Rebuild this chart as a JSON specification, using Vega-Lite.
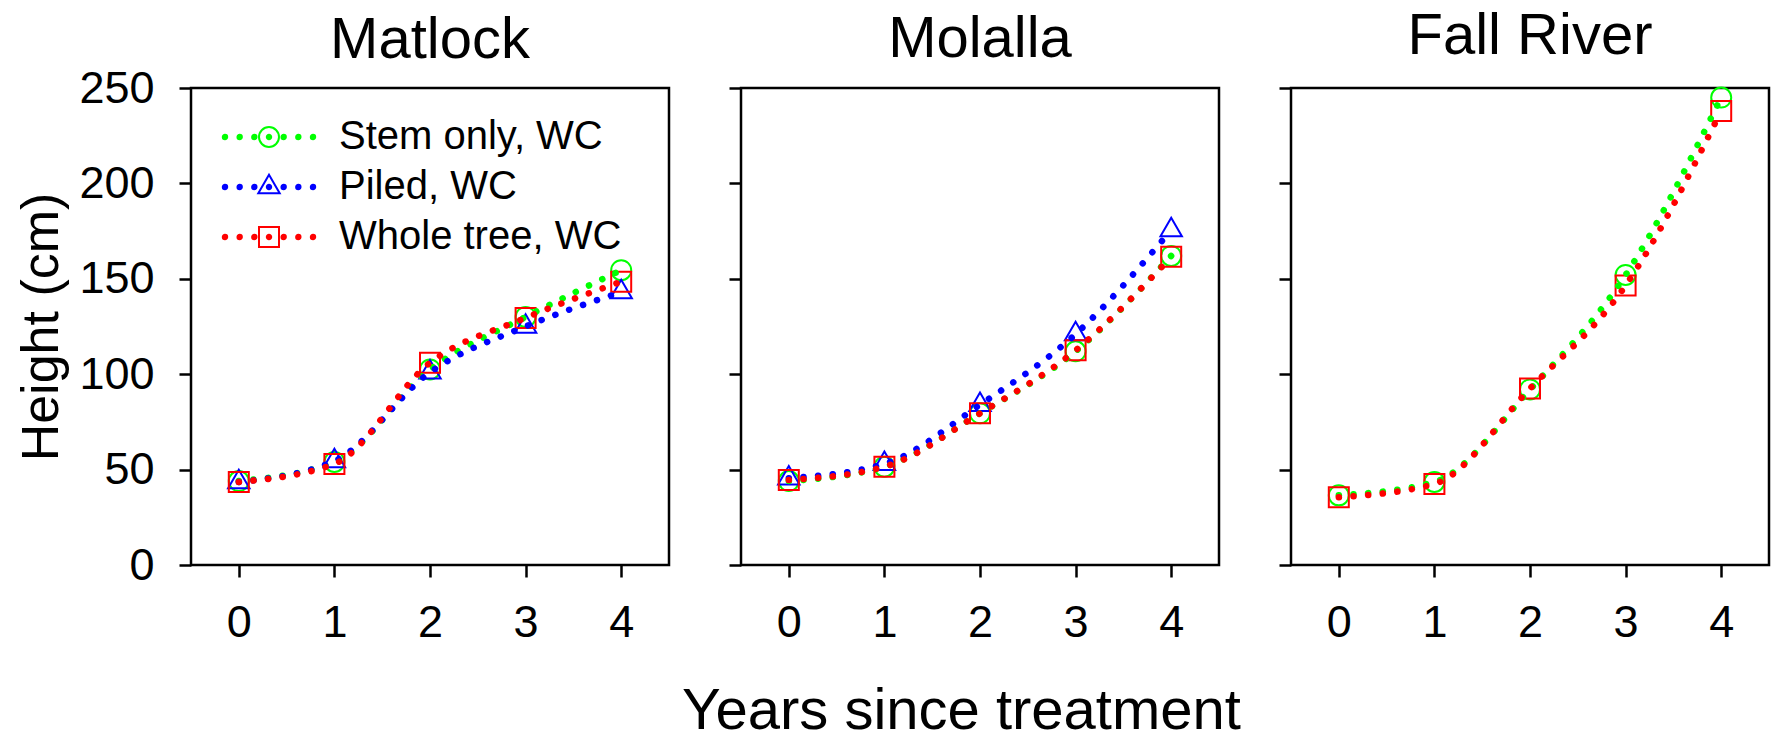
{
  "$schema": "https://vega.github.io/schema/vega-lite/v6.json",
  "background": "white",
  "padding": {"left": 14, "top": 6, "right": 4, "bottom": 0},
  "bounds": "flush",
  "spacing": 72,
  "config": {
    "font": "Liberation Sans",
    "view": {"stroke": "black", "strokeWidth": 2.5},
    "axis": {"grid": false, "domain": false, "tickColor": "black", "tickWidth": 2.5, "tickSize": 12, "labelFont": "Liberation Sans", "labelFontSize": 45, "labelColor": "black", "titleFont": "Liberation Sans", "titleColor": "black", "titleFontWeight": "normal"},
    "title": {"font": "Liberation Sans", "fontSize": 58, "fontWeight": "normal", "color": "black", "offset": 18, "anchor": "middle", "frame": "group"},
    "legend": {"labelFont": "Liberation Sans", "labelFontSize": 40, "labelColor": "black", "labelLimit": 400, "padding": 0, "rowPadding": 10}
  },
  "datasets": {
    "growth": [
      {"site": "Matlock", "treatment": "Stem only, WC", "year": 0, "height": 44},
      {"site": "Matlock", "treatment": "Stem only, WC", "year": 1, "height": 54},
      {"site": "Matlock", "treatment": "Stem only, WC", "year": 2, "height": 102.5},
      {"site": "Matlock", "treatment": "Stem only, WC", "year": 3, "height": 130},
      {"site": "Matlock", "treatment": "Stem only, WC", "year": 4, "height": 154.5},
      {"site": "Matlock", "treatment": "Piled, WC", "year": 0, "height": 43.5},
      {"site": "Matlock", "treatment": "Piled, WC", "year": 1, "height": 54.5},
      {"site": "Matlock", "treatment": "Piled, WC", "year": 2, "height": 101},
      {"site": "Matlock", "treatment": "Piled, WC", "year": 3, "height": 125},
      {"site": "Matlock", "treatment": "Piled, WC", "year": 4, "height": 143},
      {"site": "Matlock", "treatment": "Whole tree, WC", "year": 0, "height": 43.5},
      {"site": "Matlock", "treatment": "Whole tree, WC", "year": 1, "height": 53},
      {"site": "Matlock", "treatment": "Whole tree, WC", "year": 2, "height": 106},
      {"site": "Matlock", "treatment": "Whole tree, WC", "year": 3, "height": 129.5},
      {"site": "Matlock", "treatment": "Whole tree, WC", "year": 4, "height": 148.5},
      {"site": "Molalla", "treatment": "Stem only, WC", "year": 0, "height": 44},
      {"site": "Molalla", "treatment": "Stem only, WC", "year": 1, "height": 51.5},
      {"site": "Molalla", "treatment": "Stem only, WC", "year": 2, "height": 79.5},
      {"site": "Molalla", "treatment": "Stem only, WC", "year": 3, "height": 112},
      {"site": "Molalla", "treatment": "Stem only, WC", "year": 4, "height": 162},
      {"site": "Molalla", "treatment": "Piled, WC", "year": 0, "height": 45.5},
      {"site": "Molalla", "treatment": "Piled, WC", "year": 1, "height": 53},
      {"site": "Molalla", "treatment": "Piled, WC", "year": 2, "height": 84},
      {"site": "Molalla", "treatment": "Piled, WC", "year": 3, "height": 121},
      {"site": "Molalla", "treatment": "Piled, WC", "year": 4, "height": 175.5},
      {"site": "Molalla", "treatment": "Whole tree, WC", "year": 0, "height": 44.5},
      {"site": "Molalla", "treatment": "Whole tree, WC", "year": 1, "height": 51.5},
      {"site": "Molalla", "treatment": "Whole tree, WC", "year": 2, "height": 79.5},
      {"site": "Molalla", "treatment": "Whole tree, WC", "year": 3, "height": 112.5},
      {"site": "Molalla", "treatment": "Whole tree, WC", "year": 4, "height": 161.5},
      {"site": "Fall River", "treatment": "Stem only, WC", "year": 0, "height": 36.5},
      {"site": "Fall River", "treatment": "Stem only, WC", "year": 1, "height": 43.5},
      {"site": "Fall River", "treatment": "Stem only, WC", "year": 2, "height": 92},
      {"site": "Fall River", "treatment": "Stem only, WC", "year": 3, "height": 152},
      {"site": "Fall River", "treatment": "Stem only, WC", "year": 4, "height": 245},
      {"site": "Fall River", "treatment": "Whole tree, WC", "year": 0, "height": 35.5},
      {"site": "Fall River", "treatment": "Whole tree, WC", "year": 1, "height": 42.5},
      {"site": "Fall River", "treatment": "Whole tree, WC", "year": 2, "height": 92.5},
      {"site": "Fall River", "treatment": "Whole tree, WC", "year": 3, "height": 146.5},
      {"site": "Fall River", "treatment": "Whole tree, WC", "year": 4, "height": 238}
    ]
  },
  "resolve": {"scale": {"color": "independent", "shape": "independent", "stroke": "independent"}, "legend": {"color": "independent", "shape": "independent", "stroke": "independent"}},
  "hconcat": [
    {
      "width": 478, "height": 477,
      "title": {"text": "Matlock", "offset": -4},
      "data": {"name": "growth"},
      "transform": [{"filter": "datum.site === 'Matlock'"}],
      "encoding": {
        "x": {"field": "year", "type": "quantitative", "scale": {"domain": [-0.5, 4.5], "nice": false, "zero": false}, "axis": {"values": [0, 1, 2, 3, 4], "format": "d", "title": null, "labelPadding": 23}},
        "y": {"field": "height", "type": "quantitative", "scale": {"domain": [0, 250], "nice": false}, "axis": {"values": [0, 50, 100, 150, 200, 250], "title": "Height (cm)", "titleFontSize": 52, "titlePadding": 10, "labelPadding": 25}}
      },
      "layer": [
        {"mark": {"type": "point", "filled": false, "strokeWidth": 2, "size": 400, "opacity": 1},
         "encoding": {
           "color": {"field": "treatment", "type": "nominal",
             "scale": {"domain": ["Stem only, WC", "Piled, WC", "Whole tree, WC"], "range": ["#00ff00", "#0000ff", "#ff0000"]},
             "legend": {"title": null, "orient": "top-left", "offset": 29, "symbolSize": 400, "symbolStrokeWidth": 2, "symbolOffset": 29, "labelOffset": 24, "labelExpr": "''"}},
           "shape": {"field": "treatment", "type": "nominal", "scale": {"domain": ["Stem only, WC", "Piled, WC", "Whole tree, WC"], "range": ["circle", "M0,-1.23L1.07,0.62L-1.07,0.62Z", "square"]}, "legend": null}}},
        {"mark": {"type": "line", "interpolate": "monotone", "strokeCap": "round"},
         "encoding": {
           "stroke": {"field": "treatment", "type": "nominal",
             "scale": {"domain": ["Stem only, WC", "Piled, WC", "Whole tree, WC"], "range": ["#00ff00", "#0000ff", "#ff0000"]},
             "legend": {"title": null, "orient": "none", "legendX": 58, "legendY": 29, "labelOffset": 50, "symbolType": "M-2.479,0A0.087,0.087 0 1 1 -2.305,0A0.087,0.087 0 1 1 -2.479,0Z M-1.681,0A0.087,0.087 0 1 1 -1.507,0A0.087,0.087 0 1 1 -1.681,0Z M-0.884,0A0.087,0.087 0 1 1 -0.710,0A0.087,0.087 0 1 1 -0.884,0Z M-0.087,0A0.087,0.087 0 1 1 0.087,0A0.087,0.087 0 1 1 -0.087,0Z M0.710,0A0.087,0.087 0 1 1 0.884,0A0.087,0.087 0 1 1 0.710,0Z M1.507,0A0.087,0.087 0 1 1 1.681,0A0.087,0.087 0 1 1 1.507,0Z M2.305,0A0.087,0.087 0 1 1 2.479,0A0.087,0.087 0 1 1 2.305,0Z", "symbolSize": 1354, "symbolStrokeWidth": 3.2, "symbolFillColor": "transparent", "symbolDash": [1000, 0]}},
           "strokeWidth": {"value": 6.5},
           "strokeDash": {"value": [0.1, 14.6]}}}
      ]
    },
    {
      "width": 478, "height": 477,
      "title": {"text": "Molalla"},
      "data": {"name": "growth"},
      "transform": [{"filter": "datum.site === 'Molalla'"}],
      "encoding": {
        "x": {"field": "year", "type": "quantitative", "scale": {"domain": [-0.5, 4.5], "nice": false, "zero": false}, "axis": {"values": [0, 1, 2, 3, 4], "format": "d", "title": "Years since treatment", "titleFontSize": 58, "titlePadding": 37, "titleX": 220, "labelPadding": 23}},
        "y": {"field": "height", "type": "quantitative", "scale": {"domain": [0, 250], "nice": false}, "axis": {"values": [0, 50, 100, 150, 200, 250], "labels": false, "title": null}}
      },
      "layer": [
        {"mark": {"type": "point", "filled": false, "strokeWidth": 2, "size": 400, "opacity": 1},
         "encoding": {
           "color": {"field": "treatment", "type": "nominal", "scale": {"domain": ["Stem only, WC", "Piled, WC", "Whole tree, WC"], "range": ["#00ff00", "#0000ff", "#ff0000"]}, "legend": null},
           "shape": {"field": "treatment", "type": "nominal", "scale": {"domain": ["Stem only, WC", "Piled, WC", "Whole tree, WC"], "range": ["circle", "M0,-1.23L1.07,0.62L-1.07,0.62Z", "square"]}, "legend": null}}},
        {"mark": {"type": "line", "interpolate": "monotone", "strokeCap": "round"},
         "encoding": {
           "stroke": {"field": "treatment", "type": "nominal", "scale": {"domain": ["Stem only, WC", "Piled, WC", "Whole tree, WC"], "range": ["#00ff00", "#0000ff", "#ff0000"]}, "legend": null},
           "strokeWidth": {"value": 6.5},
           "strokeDash": {"value": [0.1, 14.6]}}}
      ]
    },
    {
      "width": 478, "height": 477,
      "title": {"text": "Fall River"},
      "data": {"name": "growth"},
      "transform": [{"filter": "datum.site === 'Fall River'"}],
      "encoding": {
        "x": {"field": "year", "type": "quantitative", "scale": {"domain": [-0.5, 4.5], "nice": false, "zero": false}, "axis": {"values": [0, 1, 2, 3, 4], "format": "d", "title": null, "labelPadding": 23}},
        "y": {"field": "height", "type": "quantitative", "scale": {"domain": [0, 250], "nice": false}, "axis": {"values": [0, 50, 100, 150, 200, 250], "labels": false, "title": null}}
      },
      "layer": [
        {"mark": {"type": "point", "filled": false, "strokeWidth": 2, "size": 400, "opacity": 1},
         "encoding": {
           "color": {"field": "treatment", "type": "nominal", "scale": {"domain": ["Stem only, WC", "Piled, WC", "Whole tree, WC"], "range": ["#00ff00", "#0000ff", "#ff0000"]}, "legend": null},
           "shape": {"field": "treatment", "type": "nominal", "scale": {"domain": ["Stem only, WC", "Piled, WC", "Whole tree, WC"], "range": ["circle", "M0,-1.23L1.07,0.62L-1.07,0.62Z", "square"]}, "legend": null}}},
        {"mark": {"type": "line", "interpolate": "monotone", "strokeCap": "round"},
         "encoding": {
           "stroke": {"field": "treatment", "type": "nominal", "scale": {"domain": ["Stem only, WC", "Piled, WC", "Whole tree, WC"], "range": ["#00ff00", "#0000ff", "#ff0000"]}, "legend": null},
           "strokeWidth": {"value": 6.5},
           "strokeDash": {"value": [0.1, 14.6]}}}
      ]
    }
  ]
}
